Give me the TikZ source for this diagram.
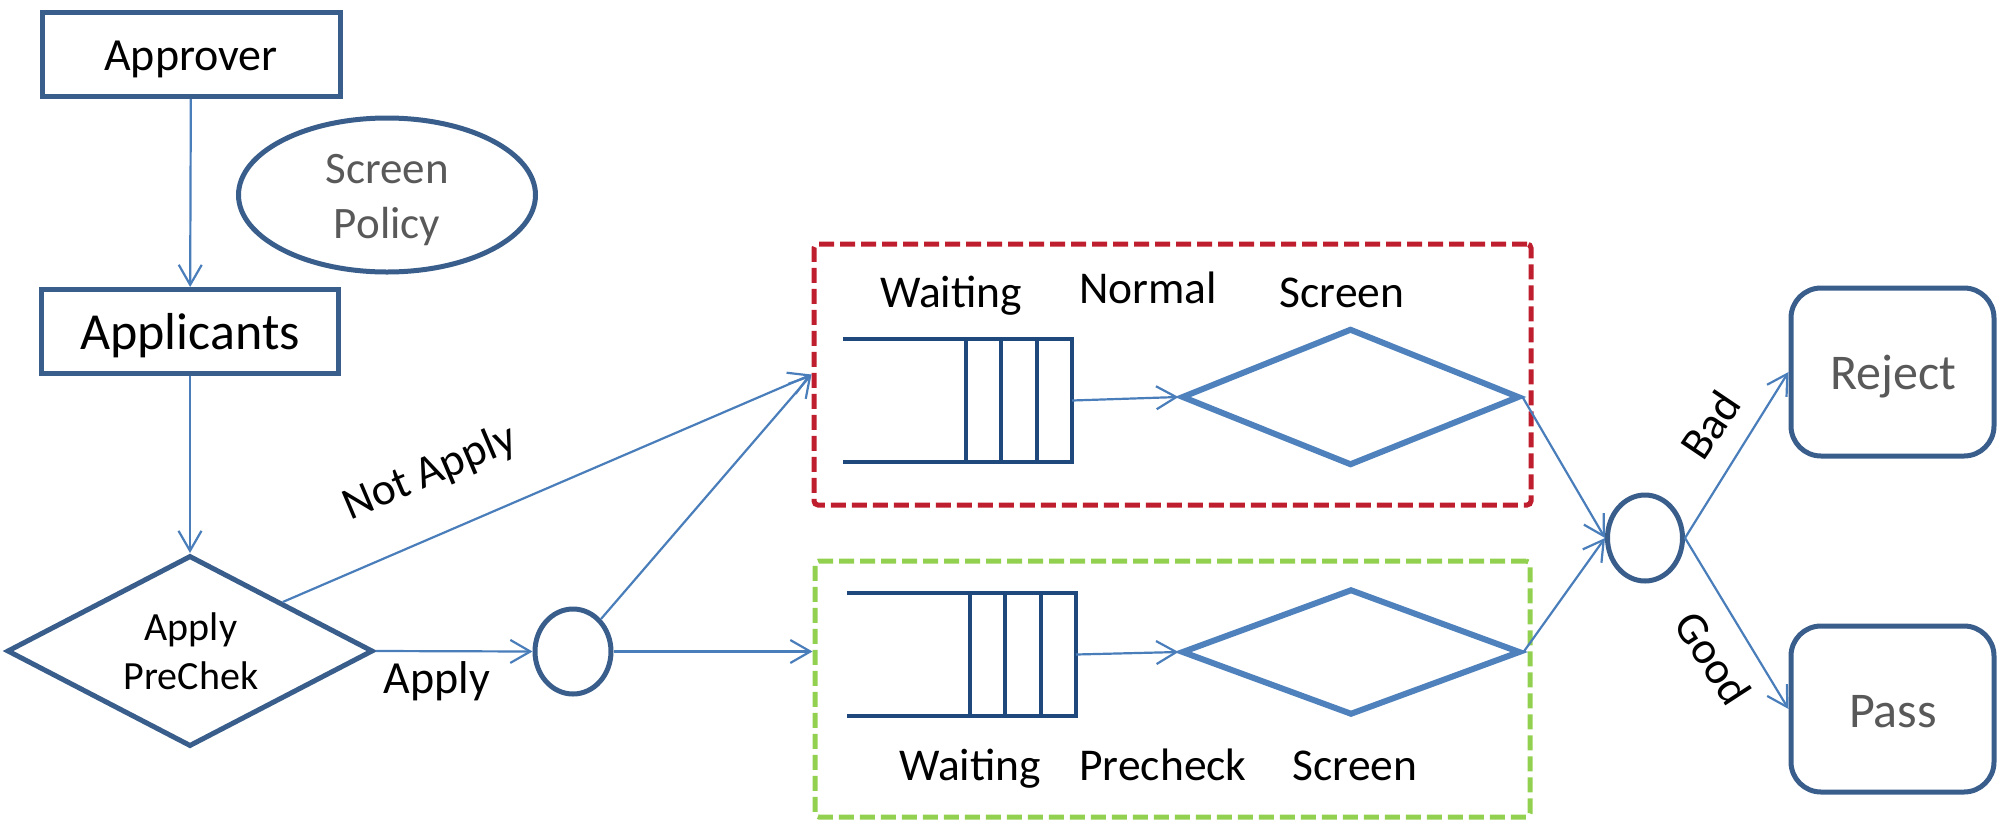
\documentclass[tikz,border=0pt]{standalone}
\usepackage{fontspec}
\setmainfont{Carlito}
\usetikzlibrary{shapes.geometric,arrows.meta,calc}

\definecolor{boxblue}{HTML}{3A5E8C}
\definecolor{linkblue}{HTML}{4A7EBB}
\definecolor{screenblue}{HTML}{4F81BD}
\definecolor{queueblue}{HTML}{1F497D}
\definecolor{lanered}{HTML}{BE1E2D}
\definecolor{lanegreen}{HTML}{92D050}
\definecolor{softgray}{HTML}{595959}

\begin{document}
\begin{tikzpicture}[x=0.5pt,y=-0.5pt,
  outline/.style={draw=boxblue,line width=2.5pt,inner sep=0pt},
  plainbox/.style={outline,rectangle},
  roundbox/.style={outline,rectangle,rounded corners=15pt,minimum width=101.5pt},
  link/.style={draw=linkblue,line width=1.1pt,-{Straight Barb[length=10pt,width=11.5pt]}},
  screenbox/.style={diamond,draw=screenblue,line width=3pt,inner sep=0pt},
  queue/.style={rectangle,inner sep=0pt,outer sep=0pt,minimum width=114.5pt,minimum height=61.5pt},
  queueline/.style={draw=queueblue,line width=2.2pt},
  lane/.style={rectangle,dash pattern=on 7.5pt off 3pt,line width=2.5pt,rounded corners=2pt,inner sep=0pt},
  txt/.style={anchor=base,inner sep=0pt,font=\fontsize{22.75pt}{27pt}\selectfont},
  bigtxt/.style={txt,font=\fontsize{26pt}{31pt}\selectfont},
  midtxt/.style={txt,font=\fontsize{23pt}{28pt}\selectfont},
  smalltxt/.style={txt,font=\fontsize{20pt}{24pt}\selectfont},
  graytxt/.style={txt,text=softgray},
  edgetxt/.style={anchor=center,inner sep=0pt,font=\fontsize{22.75pt}{27pt}\selectfont},
]

\useasboundingbox (0,0) rectangle (2009,820);

% ---- left column: approver, applicants, policy, pre-check decision
\node[plainbox,minimum width=149pt,minimum height=42pt] (approver) at (191,54.5) {};
\node[midtxt] (approver-t) at (191,70) {Approver};

\node[plainbox,minimum width=148.5pt,minimum height=42pt] (applicants) at (190,331.5) {};
\node[bigtxt] (applicants-t) at (190,349) {Applicants};

\node[outline,ellipse,minimum width=148.5pt,minimum height=77pt] (policy) at (387,195) {};
\node[graytxt,font=\fontsize{22.5pt}{27pt}\selectfont] (policy-t1) at (387,183) {Screen};
\node[graytxt,font=\fontsize{22.5pt}{27pt}\selectfont] (policy-t2) at (387,238) {Policy};

\node[outline,diamond,minimum width=183pt,minimum height=95.5pt] (dec) at (190,651) {};
\node[smalltxt] (dec-t1) at (191,640) {Apply};
\node[smalltxt] (dec-t2) at (191,689) {PreChek};

\node[outline,ellipse,minimum width=38pt,minimum height=42.5pt] (c1) at (573,651.5) {};

% ---- the two screening lanes
\node[lane,draw=lanered,minimum width=358.5pt,minimum height=130.5pt] (red) at (1172.5,374.5) {};
\node[lane,draw=lanegreen,minimum width=357.5pt,minimum height=128pt] (green) at (1172.5,689) {};

\node[queue] (q1) at (957.5,400.5) {};
\node[queue] (q2) at (961.5,654.5) {};
\foreach \q in {q1,q2}{
  \draw[queueline] (\q.north west) -- (\q.north east) -- (\q.south east) -- (\q.south west);
  \foreach \f in {0.537,0.690,0.847}
    \draw[queueline] ($(\q.north west)!\f!(\q.north east)$) -- ($(\q.south west)!\f!(\q.south east)$);
}

\node[screenbox,minimum width=169pt,minimum height=68.5pt] (s1) at (1350.5,397) {};
\node[screenbox,minimum width=169.5pt,minimum height=63pt] (s2) at (1351,652) {};

\node[txt] (l1) at (951,307) {Waiting};
\node[txt] (l2) at (1148,303) {Normal};
\node[txt] (l3) at (1342,307) {Screen};
\node[txt] (l4) at (970,780) {Waiting};
\node[txt] (l5) at (1163,780) {Precheck};
\node[txt] (l6) at (1355,780) {Screen};

% ---- outcome
\node[outline,ellipse,minimum width=37.5pt,minimum height=43pt] (dc) at (1645,538) {};
\node[roundbox,minimum height=84pt] (reject) at (1892.5,372) {};
\node[graytxt,font=\fontsize{25pt}{30pt}\selectfont] (reject-t) at (1893,389) {Reject};
\node[roundbox,minimum height=83pt] (pass) at (1892.5,709) {};
\node[graytxt,font=\fontsize{25pt}{30pt}\selectfont] (pass-t) at (1893,727) {Pass};

% ---- connectors
\draw[link] (approver) -- (applicants);
\draw[link] (applicants) -- (dec);
\draw[link] (dec.east) -- (c1.west);
\draw[link] (dec.north east) -- (red.west);
\draw[link] (c1) -- (red.west);
\draw[link] (c1.east) -- (c1.east -| green.west);
\draw[link] (q1.east) -- (s1.west);
\draw[link] (q2.east) -- (s2.west);
\draw[link] (s1.east) -- (dc.west);
\draw[link] (s2.east) -- (dc.west);
\draw[link] (dc.east) -- (reject.west);
\draw[link] (dc.east) -- (pass.west);

% ---- connector labels
\node[midtxt] (apply-t) at (437,693) {Apply};
\node[edgetxt,rotate=23] (notapply-t) at (430,473) {Not Apply};
\node[edgetxt,rotate=56] (bad-t) at (1710,425) {Bad};
\node[edgetxt,rotate=-57] (good-t) at (1713,658) {Good};

\end{tikzpicture}
\end{document}
